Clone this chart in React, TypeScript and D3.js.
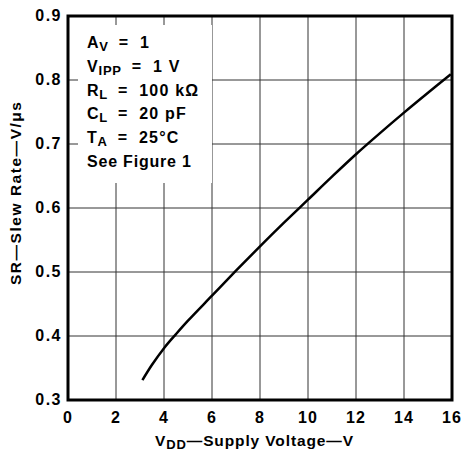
import * as d3 from "d3";

const voltage = [3.1, 3.5, 4, 4.5, 5, 6, 7, 8, 9, 10, 11, 12, 13, 14, 15, 15.95];
const slewRate = [0.331, 0.355, 0.381, 0.403, 0.424, 0.463, 0.502, 0.54, 0.577, 0.613, 0.649, 0.684, 0.717, 0.749, 0.78, 0.809];
const xTicks = [0, 2, 4, 6, 8, 10, 12, 14, 16];
const yTicks = [0.3, 0.4, 0.5, 0.6, 0.7, 0.8, 0.9];
const notes = [
  { main: "A", sub: "V", value: "1" },
  { main: "V", sub: "IPP", value: "1 V" },
  { main: "R", sub: "L", value: "100 kΩ" },
  { main: "C", sub: "L", value: "20 pF" },
  { main: "T", sub: "A", value: "25°C" },
];

export default function App() {
  const width = 462;
  const height = 451;
  const margin = { top: 16, right: 10, bottom: 51, left: 68 };
  const innerWidth = width - margin.left - margin.right;
  const innerHeight = height - margin.top - margin.bottom;
  const font = "'Liberation Sans', Arial, Helvetica, sans-serif";

  const xScale = d3.scaleLinear().domain([0, 16]).range([0, innerWidth]);
  const yScale = d3.scaleLinear().domain([0.3, 0.9]).range([innerHeight, 0]);

  const pts = voltage.map((v, i) => [v, slewRate[i]] as [number, number]);
  const line = d3
    .line<[number, number]>()
    .x((d) => xScale(d[0]))
    .y((d) => yScale(d[1]))
    .curve(d3.curveCatmullRom.alpha(0.5));

  const rowY = (i: number) => 32 + i * 23.8;

  return (
    <svg
      width={width}
      height={height}
      style={{ position: "absolute", left: 0, top: 0, background: "white" }}
      fontFamily={font}
      fontWeight="bold"
    >
      <g transform={`translate(${margin.left}, ${margin.top})`}>
        {xTicks.map((t) => (
          <line
            key={"gx" + t}
            x1={xScale(t)}
            x2={xScale(t)}
            y1={0}
            y2={innerHeight}
            stroke="#333"
            strokeWidth={1}
          />
        ))}
        {yTicks.map((t) => (
          <line
            key={"gy" + t}
            x1={0}
            x2={innerWidth}
            y1={yScale(t)}
            y2={yScale(t)}
            stroke="#333"
            strokeWidth={1}
          />
        ))}
        <rect x={10} y={9} width={134} height={158} fill="white" />
        {notes.map((n, i) => (
          <text key={i} x={19} y={rowY(i)} fontSize={16} letterSpacing={0.8}>
            {n.main}
            <tspan fontSize={13} dy={3}>
              {n.sub}
            </tspan>
            <tspan dy={-3} dx={10}>
              =
            </tspan>
            <tspan dx={11} letterSpacing={1.2}>
              {n.value}
            </tspan>
          </text>
        ))}
        <text x={19} y={rowY(5)} fontSize={16} letterSpacing={0.8}>
          See Figure 1
        </text>
        <path d={line(pts) ?? ""} fill="none" stroke="black" strokeWidth={2.5} />
        <rect
          x={0}
          y={0}
          width={innerWidth}
          height={innerHeight}
          fill="none"
          stroke="black"
          strokeWidth={3}
        />
        {xTicks.map((t) => (
          <text
            key={"tx" + t}
            x={xScale(t)}
            y={innerHeight + 23}
            textAnchor="middle"
            fontSize={16}
            letterSpacing={1}
          >
            {t}
          </text>
        ))}
        {yTicks.map((t) => (
          <text
            key={"ty" + t}
            x={-6}
            y={yScale(t) + 5}
            textAnchor="end"
            fontSize={16}
            letterSpacing={1.5}
          >
            {t.toFixed(1)}
          </text>
        ))}
        <text
          x={155 - margin.left}
          y={innerHeight + 46}
          fontSize={15.5}
          textLength={198}
          lengthAdjust="spacing"
        >
          V<tspan fontSize={13} dy={3}>DD</tspan>
          <tspan dy={-3}>—Supply Voltage—V</tspan>
        </text>
      </g>
      <text
        transform={`translate(21, 285) rotate(-90)`}
        fontSize={15.5}
        textLength={183}
        lengthAdjust="spacing"
      >
        SR—Slew Rate—V/μs
      </text>
    </svg>
  );
}
